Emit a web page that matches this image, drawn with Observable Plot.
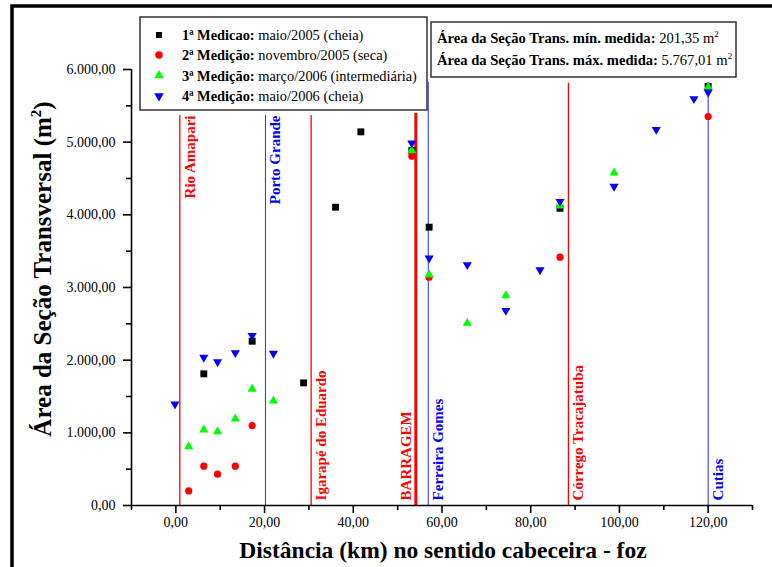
<!DOCTYPE html>
<html>
<head>
<meta charset="utf-8">
<script src="https://cdn.jsdelivr.net/npm/d3@7"></script>
<script src="https://cdn.jsdelivr.net/npm/@observablehq/plot@0.6"></script>
<style>
  html, body { margin: 0; padding: 0; background: #fff; }
  #chart { width: 772px; height: 567px; }
</style>
</head>
<body>
<div id="chart"></div>
<script>
// ---- Data ----
// 1ª Medição: maio/2005 (cheia)
const med1X = [6.3, 17.2, 28.8, 36.0, 41.7, 53.2, 57.1, 86.6, 120.0];
const med1Y = [1812, 2261, 1688, 4105, 5142, 4885, 3830, 4091, 5767];
// 2ª Medição: novembro/2005 (seca)
const med2X = [2.9, 6.3, 9.4, 13.4, 17.2, 53.2, 57.1, 86.6, 120.0];
const med2Y = [201, 541, 431, 541, 1101, 4807, 3142, 3417, 5353];
// 3ª Medição: março/2006 (intermediária)
const med3X = [2.9, 6.3, 9.4, 13.4, 17.2, 22.0, 53.2, 57.1, 65.7, 74.4, 86.6, 98.8, 120.0];
const med3Y = [812, 1041, 1018, 1193, 1601, 1440, 4885, 3175, 2509, 2890, 4124, 4578, 5756];
// 4ª Medição: maio/2006 (cheia)
const med4X = [-0.2, 6.3, 9.4, 13.4, 17.2, 22.0, 53.2, 57.1, 65.7, 74.4, 82.1, 86.6, 98.8, 108.3, 116.8, 120.0];
const med4Y = [1394, 2037, 1977, 2101, 2339, 2092, 4986, 3403, 3312, 2683, 3243, 4183, 4390, 5174, 5597, 5688];

// Reference places along the river
const placeNames = ["Rio Amapari", "Porto Grande", "Igarapé do Eduardo", "BARRAGEM", "Ferreira Gomes", "Córrego Tracajatuba", "Cutias"];
const placeX     = [0.9, 20.2, 30.5, 54.1, 56.9, 88.5, 120.0];
const placeKind  = ["rio", "cidade", "rio", "barragem", "cidade", "rio", "cidade"];

// Axis ticks
const yTicks = [0, 1000, 2000, 3000, 4000, 5000, 6000];
const yMinor = [500, 1500, 2500, 3500, 4500, 5500];
const xTicks = [0, 20, 40, 60, 80, 100, 120];
const xMinor = [-10, 10, 30, 50, 70, 90, 110, 130];

// Legend texts
const legendBold = ["1ª Medicao:", "2ª Medição:", "3ª Medição:", "4ª Medição:"];
const legendText = ["maio/2005 (cheia)", "novembro/2005 (seca)", "março/2006 (intermediária)", "maio/2006 (cheia)"];
const infoBold = ["Área da Seção Trans. mín. medida:", "Área da Seção Trans. máx. medida:"];
const infoValue = ["201,35 m", "5.767,01 m"];

// ---- Build tables ----
const toRows = (xs, ys) => xs.map((x, i) => ({x, y: ys[i]}));
const s1 = toRows(med1X, med1Y), s2 = toRows(med2X, med2Y), s3 = toRows(med3X, med3Y), s4 = toRows(med4X, med4Y);
const places = placeNames.map((name, i) => ({name, x: placeX[i], kind: placeKind[i]}));

const fmt = d3.formatLocale({decimal: ",", thousands: ".", grouping: [3], currency: ["R$", ""]}).format(",.2f");

const sqrt3 = Math.sqrt(3);
const triangleDown = {
  draw(context, size) {
    const y = -Math.sqrt(size / (sqrt3 * 3));
    context.moveTo(0, -y * 2);
    context.lineTo(-sqrt3 * y, y);
    context.lineTo(sqrt3 * y, y);
    context.closePath();
  }
};

const RED = "#ff0000", BLUE = "#0000ff", GREEN = "#00ff00";
const serif = "'Liberation Serif', 'Times New Roman', 'DejaVu Serif', serif";
const kindColor = k => (k === "cidade" ? BLUE : RED);
const topPlaces = new Set(["Rio Amapari", "Porto Grande"]);
const underLegend = d => d.x < 55;

const chart = Plot.plot({
  width: 772,
  height: 567,
  marginLeft: 131,
  marginRight: 20,
  marginTop: 69,
  marginBottom: 62,
  style: {fontFamily: serif, fontSize: "14px", color: "black", background: "white", overflow: "visible"},
  x: {domain: [-10, 130]},
  y: {domain: [0, 6000]},
  marks: [
    // vertical reference lines
    Plot.ruleX(places.filter(d => d.kind === "rio"), {x: "x", y1: 0, y2: d => underLegend(d) ? 5367 : 5810, stroke: RED, strokeWidth: 1.3}),
    Plot.ruleX(places.filter(d => d.kind === "barragem"), {x: "x", y1: 0, y2: 5394, stroke: RED, strokeWidth: 3}),
    Plot.ruleX(places.filter(d => d.kind === "cidade"), {x: "x", y1: 0, y2: d => underLegend(d) ? 5367 : 5821, stroke: BLUE, strokeWidth: 1, strokeOpacity: 0.85}),
    // labels at top
    Plot.text(places.filter(d => topPlaces.has(d.name)), {
      x: "x", y: 5367, text: "name", rotate: -90, textAnchor: "end", dx: 10,
      fill: d => kindColor(d.kind), fontWeight: "bold", fontSize: 15
    }),
    // labels at bottom, right of line
    Plot.text(places.filter(d => !topPlaces.has(d.name) && d.kind !== "barragem"), {
      x: "x", y: 70, text: "name", rotate: -90, textAnchor: "start", dx: 10,
      fill: d => kindColor(d.kind), fontWeight: "bold", fontSize: 15
    }),
    // barragem label left of line
    Plot.text(places.filter(d => d.kind === "barragem"), {
      x: "x", y: 70, text: "name", rotate: -90, textAnchor: "start", dx: -10,
      fill: RED, fontWeight: "bold", fontSize: 15
    }),
    // axes lines
    Plot.ruleY([0], {stroke: "black", strokeWidth: 1.6}),
    Plot.ruleX([-10], {y1: 0, y2: 6000, stroke: "black", strokeWidth: 1.6}),
    // axes ticks
    Plot.axisY({ticks: yTicks, tickSize: 8, tickPadding: 8, tickFormat: fmt, label: null, strokeWidth: 1.6, fontSize: 14}),
    Plot.axisY({ticks: yMinor, tickSize: 5, tickFormat: () => "", label: null, strokeWidth: 1.6}),
    Plot.axisX({ticks: xTicks, tickSize: 8, tickPadding: 4, tickFormat: fmt, label: null, strokeWidth: 1.6, fontSize: 14}),
    Plot.axisX({ticks: xMinor, tickSize: 5, tickFormat: () => "", label: null, strokeWidth: 1.6}),
    // measurements
    Plot.dot(s1, {x: "x", y: "y", symbol: "square", r: 3.9, fill: "black", stroke: "none"}),
    Plot.dot(s2, {x: "x", y: "y", symbol: "circle", r: 3.6, fill: RED, stroke: "none"}),
    Plot.dot(s3, {x: "x", y: "y", symbol: "triangle", r: 3.4, fill: GREEN, stroke: "none"}),
    Plot.dot(s4, {x: "x", y: "y", symbol: triangleDown, r: 3.4, fill: BLUE, stroke: "none"})
  ]
});

document.getElementById("chart").appendChild(chart);

// ---- Decorations: frame, titles, legend, info box ----
const svg = d3.select(chart);

// outer thick frame (cropped on the right and bottom)
svg.append("path")
  .attr("d", "M12,600 V6 H800")
  .attr("fill", "none").attr("stroke", "black").attr("stroke-width", 3.5);

// y title
const yt = svg.append("text")
  .attr("transform", "translate(51,269) rotate(-90)")
  .attr("text-anchor", "middle")
  .attr("font-family", serif).attr("font-weight", "bold").attr("font-size", 25).attr("fill", "black");
yt.append("tspan").text("Área da Seção Transversal (m");
yt.append("tspan").attr("font-size", 15).attr("dy", -10).text("2");
yt.append("tspan").attr("dy", 10).text(")");

// x title
svg.append("text")
  .attr("x", 443).attr("y", 558)
  .attr("text-anchor", "middle")
  .attr("font-family", serif).attr("font-weight", "bold").attr("font-size", 23.5).attr("fill", "black")
  .text("Distância (km) no sentido cabeceira - foz");

// legend box
const lg = svg.append("g").attr("text-anchor", "start");
lg.append("rect").attr("x", 140).attr("y", 17).attr("width", 287).attr("height", 93)
  .attr("fill", "white").attr("stroke", "#333").attr("stroke-width", 1.5);
const rowY = [35, 55, 75.5, 96];
const legendSymbols = [d3.symbol(d3.symbolSquare, 36), d3.symbol(d3.symbolCircle, 44), d3.symbol(d3.symbolTriangle, 40), d3.symbol(triangleDown, 40)];
const legendFills = ["black", RED, GREEN, BLUE];
legendBold.forEach((b, i) => {
  lg.append("path").attr("d", legendSymbols[i]()).attr("transform", `translate(159,${rowY[i]})`).attr("fill", legendFills[i]);
  const t = lg.append("text").attr("x", 182).attr("y", rowY[i] + 5).attr("text-anchor", "start")
    .attr("font-family", serif).attr("font-size", 14.4).attr("fill", "black");
  t.append("tspan").attr("font-weight", "bold").text(b + " ");
  t.append("tspan").text(legendText[i]);
});

// info box
const ib = svg.append("g").attr("text-anchor", "start");
ib.append("rect").attr("x", 431).attr("y", 22).attr("width", 305).attr("height", 55)
  .attr("fill", "white").attr("stroke", "#333").attr("stroke-width", 1.5);
[43, 65].forEach((yy, i) => {
  const t = ib.append("text").attr("x", 437).attr("y", yy).attr("text-anchor", "start")
    .attr("font-family", serif).attr("font-size", 14.6).attr("fill", "black");
  t.append("tspan").attr("font-weight", "bold").text(infoBold[i] + " ");
  t.append("tspan").text(infoValue[i]);
  t.append("tspan").attr("font-size", 9).attr("dy", -6).text("2");
});
</script>
</body>
</html>
